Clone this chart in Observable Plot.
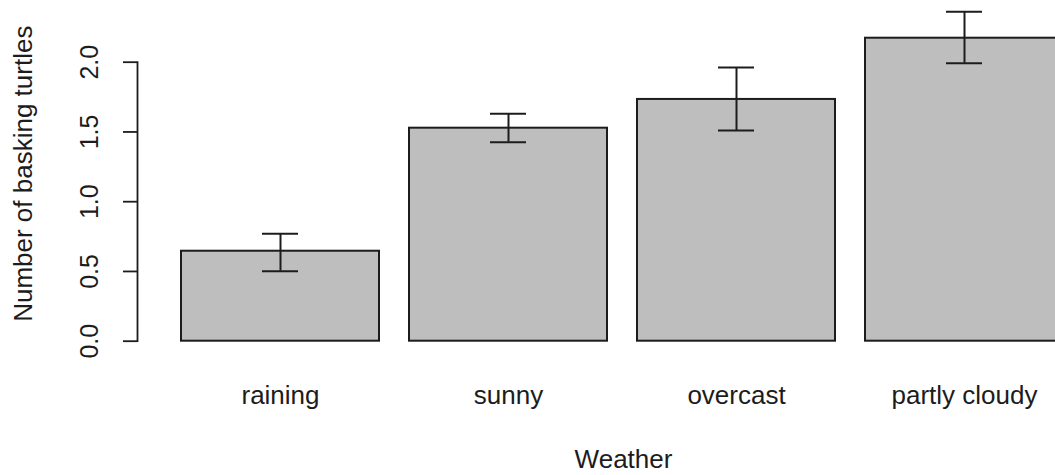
<!DOCTYPE html>
<html>
<head>
<meta charset="utf-8">
<script src="https://cdn.jsdelivr.net/npm/d3@7"></script>
<script src="https://cdn.jsdelivr.net/npm/@observablehq/plot@0.6"></script>
<style>
  html, body { margin: 0; padding: 0; background: #fff; }
  #chart svg { display: block; overflow: hidden; }
</style>
</head>
<body>
<div id="chart"></div>
<script>
const weather = ["raining", "sunny", "overcast", "partly cloudy"];
const meanTurtles = [0.645, 1.527, 1.733, 2.172];
const errLow = [0.502, 1.427, 1.510, 1.993];
const errHigh = [0.770, 1.630, 1.962, 2.361];
const yTicks = [0, 0.5, 1.0, 1.5, 2.0];
const yTickLabels = ["0.0", "0.5", "1.0", "1.5", "2.0"];
const xTitle = "Weather";
const yTitle = "Number of basking turtles";

const data = weather.map((w, i) => ({weather: w, mean: meanTurtles[i], lo: errLow[i], hi: errHigh[i]}));
const tickData = yTicks.map((v, i) => ({v, label: yTickLabels[i]}));

const font = "'Liberation Sans', Arial, sans-serif";
const ink = "#1c1c1c";

const chart = Plot.plot({
  width: 1055,
  height: 475,
  marginLeft: 137,
  marginRight: 0,
  marginTop: 61.7,
  marginBottom: 134.3,
  style: {fontFamily: font, background: "#fff", color: ink},
  x: {domain: weather, range: [165.6, 1078], paddingInner: 0.13, paddingOuter: 0.065, align: 0.5, axis: null},
  y: {domain: [0, 2], nice: false, axis: null},
  marks: [
    Plot.barY(data, {x: "weather", y: "mean", fill: "#bebebe", stroke: ink, strokeWidth: 2}),
    Plot.ruleX(data, {x: "weather", y1: "lo", y2: "hi", stroke: ink, strokeWidth: 2}),
    Plot.tickY(data, {x: "weather", y: "lo", stroke: ink, strokeWidth: 2, insetLeft: 81, insetRight: 81}),
    Plot.tickY(data, {x: "weather", y: "hi", stroke: ink, strokeWidth: 2, insetLeft: 81, insetRight: 81}),
    Plot.frame({anchor: "left", stroke: ink, strokeWidth: 1.8}),
    Plot.axisY({ticks: yTicks, tickSize: 14, tickFormat: () => "", label: null, stroke: ink, strokeWidth: 1.8}),
    Plot.text(tickData, {y: "v", text: "label", frameAnchor: "left", dx: -48, rotate: -90, textAnchor: "middle", lineAnchor: "middle", fontSize: 25, fill: ink}),
    Plot.text(data, {x: "weather", text: "weather", frameAnchor: "bottom", dy: 54, lineAnchor: "middle", textAnchor: "middle", fontSize: 26, fill: ink}),
    Plot.text([xTitle], {text: d => d, frameAnchor: "bottom", dx: 623 - (137 + 1055) / 2, dy: 118, lineAnchor: "middle", textAnchor: "middle", fontSize: 26, fill: ink}),
    Plot.text([yTitle], {text: d => d, frameAnchor: "left", dx: -114, dy: -28, rotate: -90, lineAnchor: "middle", textAnchor: "middle", fontSize: 26, fill: ink})
  ]
});
document.getElementById("chart").appendChild(chart);
</script>
</body>
</html>
